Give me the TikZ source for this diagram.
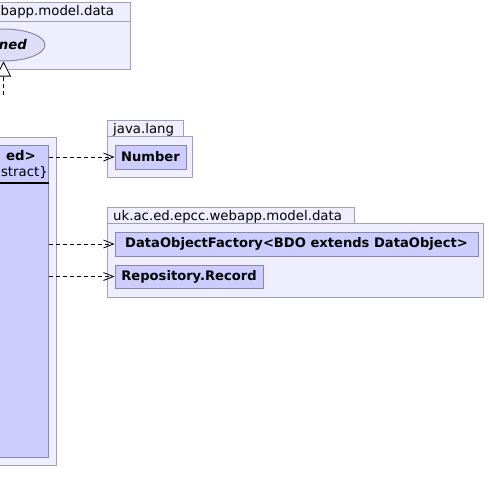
\documentclass[tikz,border=0pt]{standalone}
\usepackage{fontspec}
\setmainfont{DejaVu Sans}
\usetikzlibrary{arrows.meta,positioning,shapes.geometric}

\definecolor{pkgfill}{RGB}{238,238,255}
\definecolor{pkgline}{RGB}{160,160,180}
\definecolor{clsfill}{RGB}{204,204,255}
\definecolor{clsline}{RGB}{136,136,170}
\definecolor{ovfill}{RGB}{221,221,248}

\begin{document}
\begin{tikzpicture}[
  x=1pt, y=-1pt,
  font=\fontsize{13.3}{15}\selectfont,
  pkg/.style={draw=pkgline, fill=pkgfill, inner sep=0pt, line width=1pt},
  cls/.style={draw=clsline, fill=clsfill, inner sep=0pt, line width=1pt, font=\fontsize{13.1}{15}\selectfont\bfseries},
  own/.style={ellipse, draw=clsline, fill=ovfill, inner sep=0pt, line width=1pt},
  txt/.style={inner sep=0pt},
  dep/.style={-{Straight Barb[length=10pt, width=8pt]}, dash pattern=on 4pt off 3pt, line width=0.8pt},
  real/.style={-{Triangle[open, fill=white, length=15pt, width=15pt]}, dash pattern=on 4pt off 3pt, line width=0.8pt},
  sep/.style={line width=2pt}
]
\useasboundingbox (0,0) rectangle (488,503);

% package in the top left corner
\node[pkg, anchor=north east, minimum width=191pt, minimum height=19pt] (toptab) at (131,2) {};
\node[pkg, anchor=north east, minimum width=191pt, minimum height=48pt] (topbody) at (131,21) {};
\node[txt, anchor=base west] (toplbl) at (0.5,16) {bapp.model.data};
\node[own, minimum width=83pt, minimum height=32pt] (owned) at (3.5,45) {};
\node[txt, anchor=base east, font=\fontsize{13.3}{15}\selectfont\bfseries\itshape] (ownlbl) at (27,49) {ned};

% package holding the class on the left
\node[pkg, anchor=north east, minimum width=117pt, minimum height=328pt] (leftpkg) at (57,137) {};
\node[cls, anchor=north east, minimum width=109pt, minimum height=312pt] (bdo) at (49,145) {};
\node[txt, anchor=base east, font=\fontsize{13.3}{15}\selectfont\bfseries] (bdoname) at (36,160) {ed>};
\node[txt, anchor=base east] (bdoabs) at (48,176) {stract\}};
\draw[sep] ([yshift=-38pt]bdo.north west) -- ([yshift=-38pt]bdo.north east);

% java.lang
\node[pkg, anchor=north west, minimum width=76pt, minimum height=16pt] (jltab) at (107,120) {};
\node[pkg, anchor=north west, minimum width=85pt, minimum height=41pt] (jlbody) at (107,136) {};
\node[txt, anchor=base west] (jllbl) at (113,133) {java.lang};
\node[cls, minimum width=71pt, minimum height=24pt] (number) at (150.5,157) {Number};

% uk.ac.ed.epcc.webapp.model.data
\node[pkg, anchor=north west, minimum width=247pt, minimum height=16pt] (datatab) at (107,207) {};
\node[pkg, anchor=north west, minimum width=376pt, minimum height=74pt] (databody) at (107,223) {};
\node[txt, anchor=base west] (datalbl) at (113,220) {uk.ac.ed.epcc.webapp.model.data};
\node[cls, minimum width=363pt, minimum height=24pt] (factory) at (296.5,244) {DataObjectFactory<BDO extends DataObject>};
\node[cls, minimum width=148pt, minimum height=23pt] (record) at (189,276.5) {Repository.Record};

% connectors
\coordinate (realtail) at (3.5,95);
\draw[real] (realtail) -- (owned.south);
\draw[dep] (bdo.east |- number.west) -- (number.west);
\draw[dep] (bdo.east |- factory.west) -- (factory.west);
\draw[dep] (bdo.east |- record.west) -- (record.west);
\end{tikzpicture}
\end{document}
